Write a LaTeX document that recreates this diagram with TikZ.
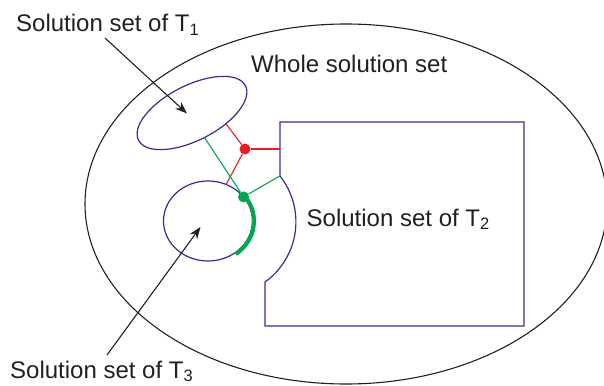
\documentclass[tikz,border=0pt]{standalone}
\usepackage{fontspec}
\setmainfont{Liberation Sans}
\usetikzlibrary{arrows.meta,calc}
\definecolor{setblue}{RGB}{46,49,146}
\definecolor{ptred}{RGB}{237,28,36}
\definecolor{ptgreen}{RGB}{0,166,81}
\definecolor{ink}{RGB}{35,31,32}
\tikzset{
  whole/.style ={draw=ink, line width=1.1pt},
  region/.style={draw=setblue, line width=1.2pt},
  lbl/.style   ={anchor=base west, inner sep=0pt, text=ink,
                 font=\fontsize{24}{28}\selectfont},
  ar/.style    ={-{Stealth[length=12pt,width=9pt]}, line width=1.1pt, draw=ink},
  rline/.style ={draw=ptred, line width=1.1pt},
  gline/.style ={draw=ptgreen, line width=1.1pt},
  dot/.style   ={circle, inner sep=0pt, minimum size=11pt},
}
\newcommand{\tsub}[1]{\raisebox{-3.5pt}{\fontsize{16.5}{16.5}\selectfont #1}}

\begin{document}
\begin{tikzpicture}[x=1pt,y=-1pt]
\useasboundingbox (0,0) rectangle (604,385);
\clip (0,0) rectangle (604,385);

% whole solution set
\draw[whole] (346,204) ellipse [x radius=261, y radius=180];

% solution set of T1
\begin{scope}[shift={(192,113)}, rotate=27]
  \draw[region] (0,0) ellipse [x radius=60, y radius=27.5];
  \coordinate (t1r) at (65:60 and 27.5);
  \coordinate (t1g) at (90:60 and 27.5);
\end{scope}

% solution set of T3
\coordinate (t3) at (208,221);
\draw[region] (t3) ellipse [x radius=44.5, y radius=40];
\coordinate (t3r) at ($(t3)+(-66:44.5 and 40)$);
\coordinate (t3g) at ($(t3)+(-37:44.5 and 40)$);
\draw[ptgreen, line width=4pt] ($(t3)+(-37:46 and 41.5)$)
  arc[start angle=-37, end angle=53, x radius=46, y radius=41.5];

% solution set of T2
\draw[region] (280,122) -- (524,122) -- (524,326) -- (265,326) -- (265,282)
  arc[start angle=54.4, end angle=-38.4, radius=74] coordinate (t2c) -- cycle;
\coordinate (t2r) at (280,149);

% nearest points
\node[dot, fill=ptred] (rdot) at (245,149) {};
\node[dot, fill=ptgreen] (gdot) at (t3g) {};
\draw[rline] (rdot) -- (t1r);
\draw[rline] (rdot) -- (t3r);
\draw[rline] (rdot) -- (t2r);
\draw[gline] (t1g) -- (gdot) -- (t2c);

% labels
\node[lbl] (lblone) at (16,32) {Solution set of T\tsub{1}};
\node[lbl] (lblwhole) at (251,73) {Whole solution set};
\node[lbl] (lbltwo) at (306.5,226) {Solution set of T\tsub{2}};
\node[lbl] (lblthree) at (10,378) {Solution set of T\tsub{3}};

\coordinate (ftone) at (105,38);
\coordinate (tipone) at (187,113.5);
\coordinate (ftthree) at (107,355);
\coordinate (tipthree) at (200.5,227);
\draw[ar] (ftone) -- (tipone);
\draw[ar] (ftthree) -- (tipthree);
\end{tikzpicture}
\end{document}
